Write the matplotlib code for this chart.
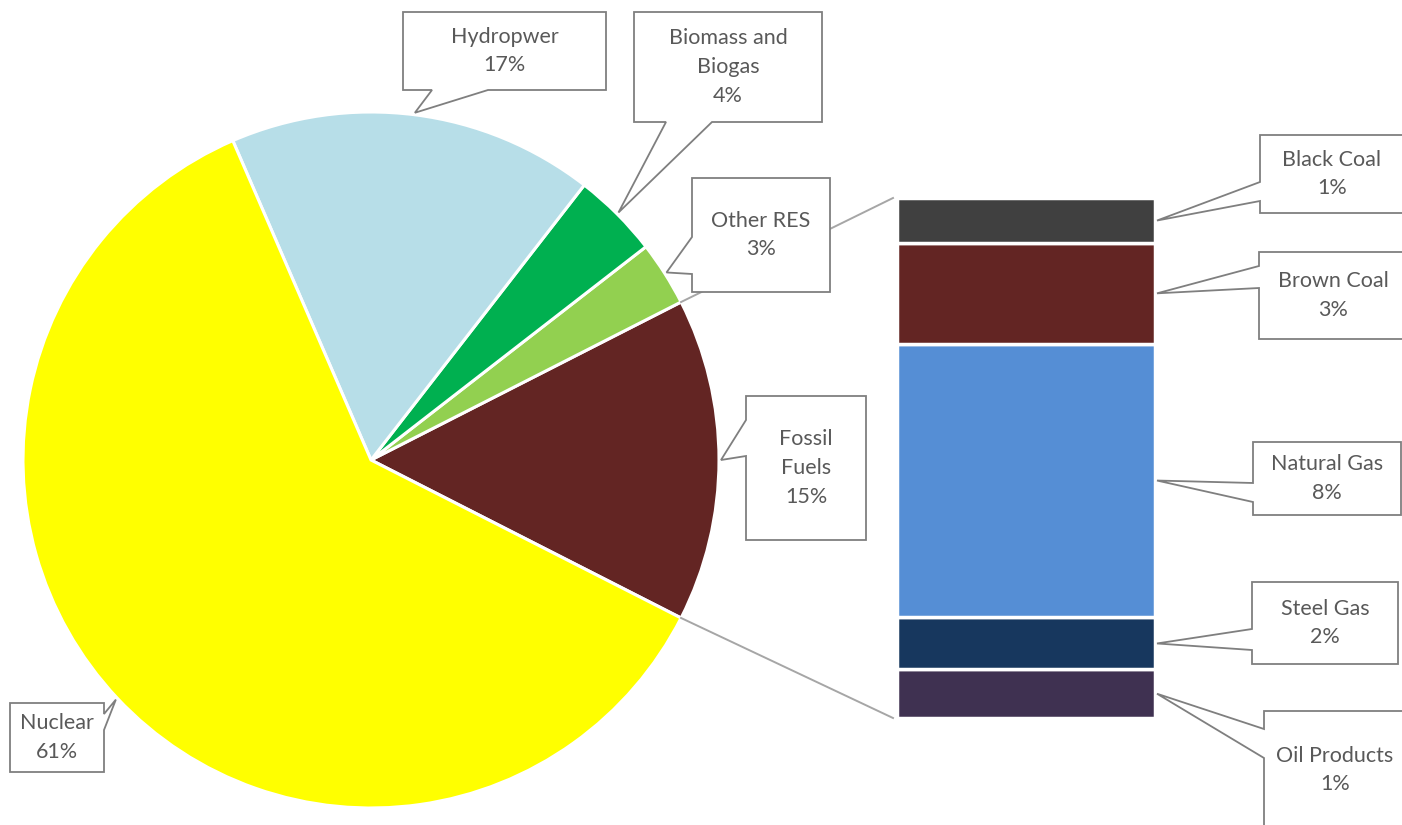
import matplotlib.pyplot as plt
from matplotlib.patches import Polygon
import numpy as np

plt.rcParams['font.family'] = ['Lato', 'DejaVu Sans']

# data
pie_names = ['Fossil\nFuels', 'Other RES', 'Biomass and\nBiogas', 'Hydropwer', 'Nuclear']
pie_vals = [15, 3, 4, 17, 61]
pie_colors = ['#632523', '#92D050', '#00B050', '#B7DEE8', '#FFFF00']

bar_names = ['Oil Products', 'Steel Gas', 'Natural Gas', 'Brown Coal', 'Black Coal']
bar_vals = [1.4, 1.5, 7.9, 2.9, 1.3]
bar_colors = ['#3F3151', '#17375E', '#558ED5', '#632523', '#404040']

W, H = 1402, 825
fig = plt.figure(figsize=(W / 100, H / 100), dpi=100)
ax = fig.add_axes([0, 0, 1, 1])

def Y(y):
    return H - y

# pie
cx, cy, r = 371, 460, 348
start = -pie_vals[0] * 1.8
ax.pie(pie_vals, colors=pie_colors, startangle=start, counterclock=True,
       center=(cx, Y(cy)), radius=r,
       wedgeprops=dict(edgecolor='white', linewidth=2.2))

# bar of fossil fuels
bar_x0, bar_x1 = 897, 1155
bar_top, bar_bot = 198, 718
scale = (bar_bot - bar_top) / sum(bar_vals)
bottoms = np.concatenate([[0], np.cumsum(bar_vals)[:-1]])
ax.bar((bar_x0 + bar_x1) / 2, np.array(bar_vals) * scale, width=bar_x1 - bar_x0,
       bottom=Y(bar_bot) + bottoms * scale, color=bar_colors,
       edgecolor='white', linewidth=2.5, zorder=2)

# connector lines
a1 = np.radians(start + pie_vals[0] * 3.6)
a0 = np.radians(start)
ax.plot([cx + r * np.cos(a1), bar_x0 - 4], [Y(cy) + r * np.sin(a1), Y(bar_top)],
        color='#A6A6A6', lw=1.4, zorder=1)
ax.plot([cx + r * np.cos(a0), bar_x0 - 4], [Y(cy) + r * np.sin(a0), Y(bar_bot)],
        color='#A6A6A6', lw=1.4, zorder=1)


def callout(box, side, b0, b1, tip, text, tc=None):
    x0, y0, x1, y1 = box
    if side == 'bottom':
        pts = [(x0, y0), (x1, y0), (x1, y1), (b1, y1), tip, (b0, y1), (x0, y1)]
    elif side == 'left':
        pts = [(x0, y0), (x1, y0), (x1, y1), (x0, y1), (x0, b1), tip, (x0, b0)]
    else:
        pts = [(x0, y0), (x1, y0), (x1, b0), tip, (x1, b1), (x1, y1), (x0, y1)]
    pts = [(px, Y(py)) for px, py in pts]
    ax.add_patch(Polygon(pts, closed=True, facecolor='white', edgecolor='#7F7F7F',
                         lw=1.3, zorder=5))
    if tc is None:
        tc = ((x0 + x1) / 2, (y0 + y1) / 2)
    ax.text(tc[0], Y(tc[1]), text, ha='center', va='center', fontsize=15.5,
            color='#595959', linespacing=1.55, zorder=6)


# pie labels
pie_boxes = [
    ((746, 396, 866, 540), 'left', 420, 456),
    ((692, 178, 830, 292), 'left', 237, 274),
    ((634, 12, 822, 122), 'bottom', 666, 712),
    ((403, 12, 606, 90), 'bottom', 432, 488),
    ((10, 703, 104, 772), 'right', 714, 730),
]
ang = start
for name, v, (box, side, b0, b1) in zip(pie_names, pie_vals, pie_boxes):
    mid = np.radians(ang + v * 1.8)
    ang += v * 3.6
    tip = (cx + (r + 2) * np.cos(mid), cy - (r + 2) * np.sin(mid))
    callout(box, side, b0, b1, tip, f'{name}\n{v:.0f}%')

# bar labels
bar_boxes = [
    ((1264, 711, 1406, 835), 'left', 729, 758, (1335, 770)),
    ((1252, 582, 1398, 664), 'left', 629, 650, None),
    ((1253, 442, 1401, 515), 'left', 483, 502, None),
    ((1259, 252, 1407, 339), 'left', 266, 288, None),
    ((1260, 135, 1404, 213), 'left', 182, 201, None),
]
for name, v, bt, (box, side, b0, b1, tc) in zip(bar_names, bar_vals, bottoms, bar_boxes):
    tip_y = Y(bar_bot) + (bt + v / 2) * scale
    tip = (bar_x1 + 2, H - tip_y)
    callout(box, side, b0, b1, tip, f'{name}\n{v:.0f}%', tc)

ax.set_xlim(0, W)
ax.set_ylim(0, H)
ax.set_aspect('auto')
ax.axis('off')

fig.savefig('out.png', dpi=100)
